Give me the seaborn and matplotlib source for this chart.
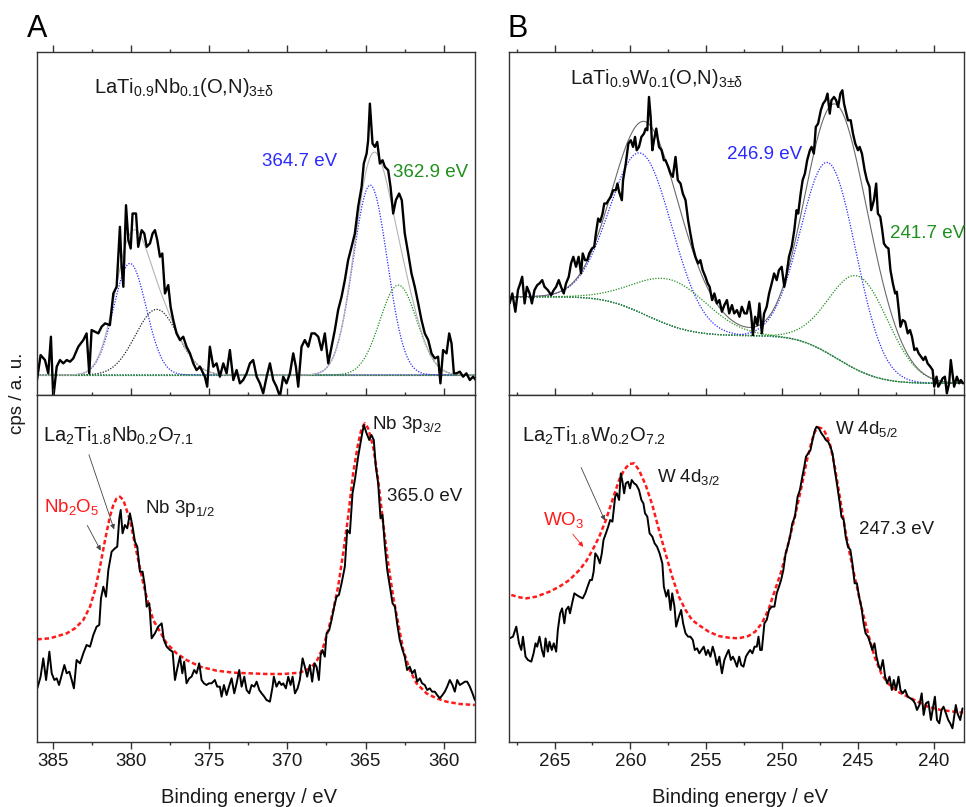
import math
import numpy as np
import matplotlib
matplotlib.use("Agg")
import matplotlib.pyplot as plt
import seaborn as sns
from matplotlib.ticker import MultipleLocator

# ---------------- measured spectra (binding energy / eV, intensity / a.u.) ----------------
# Panel A, top: LaTi0.9Nb0.1(O,N)3±d, Nb 3p region
nbon_energy = [386.00, 385.77, 385.49, 385.28, 385.11, 384.96, 384.74, 384.53, 384.32, 384.10,
               383.89, 383.68, 383.36, 383.04, 382.83, 382.66, 382.51, 382.29, 382.08, 381.87,
               381.65, 381.34, 381.12, 380.91, 380.70, 380.59, 380.48, 380.31, 380.16, 380.01,
               379.89, 379.67, 379.53, 379.31, 379.14, 378.99, 378.78, 378.61, 378.46, 378.31,
               378.14, 377.99, 377.82, 377.61, 377.46, 377.29, 377.08, 376.86, 376.65, 376.44,
               376.22, 376.01, 375.80, 375.58, 375.27, 375.12, 374.95, 374.73, 374.52, 374.31,
               374.09, 373.88, 373.67, 373.45, 373.24, 373.03, 372.82, 372.60, 372.39, 372.18,
               371.96, 371.75, 371.54, 371.32, 371.11, 370.90, 370.69, 370.47, 370.26, 370.05,
               369.83, 369.62, 369.45, 369.30, 369.09, 368.88, 368.66, 368.45, 368.24, 368.02,
               367.81, 367.60, 367.38, 367.17, 366.96, 366.75, 366.53, 366.32, 366.11, 365.89,
               365.68, 365.47, 365.25, 365.11, 364.93, 364.83, 364.72, 364.55, 364.40, 364.25,
               364.08, 363.91, 363.76, 363.55, 363.40, 363.23, 363.06, 362.85, 362.68, 362.49,
               362.27, 362.06, 361.85, 361.63, 361.42, 361.21, 360.99, 360.78, 360.57, 360.36,
               360.21, 360.04, 359.82, 359.65, 359.50, 359.35, 359.18, 358.97, 358.76, 358.55,
               358.33, 358.12, 357.95]
nbon_counts = [45, 120, 105, 65, 175, -10, 85, 105, 95, 105,
               100, 110, 145, 165, 185, 65, 195, 190, 185, 205,
               215, 210, 305, 325, 505, 385, 325, 570, 465, 440,
               545, 545, 445, 495, 485, 445, 455, 485, 495, 465,
               415, 425, 305, 330, 265, 225, 185, 165, 175, 145,
               125, 95, 75, 85, 55, 25, 145, 85, 95, 55,
               95, 65, 135, 45, 75, 35, 45, 65, 95, 105,
               55, 35, 5, 55, 95, 45, 25, -5, 55, 35,
               65, 125, 85, 25, 145, 165, 145, 185, 185, 175,
               135, 185, 95, 145, 195, 255, 295, 345, 405, 445,
               485, 565, 625, 695, 725, 765, 875, 755, 745, 760,
               695, 705, 685, 675, 625, 545, 585, 605, 585, 485,
               425, 365, 325, 275, 225, 185, 165, 125, 110, 115,
               35, 135, 125, 185, 155, 65, 65, 70, 55, 65,
               45, 55, 45]

# Panel A, bottom: La2Ti1.8Nb0.2O7.1
nbo_energy = [385.98, 385.77, 385.60, 385.42, 385.21, 385.06, 384.89, 384.74, 384.59, 384.42,
              384.25, 384.10, 383.93, 383.78, 383.64, 383.47, 383.25, 383.04, 382.83, 382.61,
              382.40, 382.19, 382.02, 381.91, 381.76, 381.59, 381.44, 381.23, 381.02, 380.87,
              380.74, 380.65, 380.53, 380.38, 380.23, 380.06, 379.89, 379.74, 379.59, 379.42,
              379.25, 379.10, 378.99, 378.82, 378.67, 378.46, 378.25, 378.03, 377.89, 377.71,
              377.50, 377.33, 377.18, 377.03, 376.86, 376.71, 376.59, 376.44, 376.27, 376.12,
              375.95, 375.80, 375.63, 375.48, 375.33, 375.16, 375.01, 374.84, 374.63, 374.48,
              374.31, 374.20, 374.05, 373.88, 373.73, 373.56, 373.39, 373.24, 373.07, 372.92,
              372.75, 372.60, 372.43, 372.28, 372.11, 371.96, 371.79, 371.64, 371.47, 371.33,
              371.11, 370.94, 370.86, 370.69, 370.52, 370.37, 370.26, 370.09, 369.94, 369.79,
              369.66, 369.51, 369.34, 369.20, 369.02, 368.88, 368.73, 368.56, 368.41, 368.26,
              368.13, 367.98, 367.87, 367.75, 367.60, 367.49, 367.32, 367.17, 367.00, 366.85,
              366.70, 366.53, 366.32, 366.17, 366.00, 365.83, 365.68, 365.47, 365.25, 365.11,
              364.93, 364.76, 364.62, 364.47, 364.34, 364.19, 364.04, 363.91, 363.76, 363.61,
              363.44, 363.27, 363.12, 362.98, 362.81, 362.63, 362.49, 362.34, 362.17, 362.02,
              361.85, 361.70, 361.53, 361.38, 361.21, 361.06, 360.89, 360.74, 360.57, 360.42,
              360.25, 360.08, 359.93, 359.78, 359.61, 359.44, 359.29, 359.14, 358.97, 358.80,
              358.65, 358.50, 358.33, 358.16, 358.01]
nbo_counts = [161, 196, 251, 186, 271, 206, 186, 191, 171, 201,
              231, 206, 211, 186, 161, 246, 236, 266, 291, 286,
              321, 346, 351, 431, 466, 436, 516, 571, 581, 586,
              671, 696, 626, 651, 641, 686, 646, 601, 586, 511,
              511, 466, 406, 416, 311, 326, 346, 356, 306, 286,
              276, 271, 186, 221, 256, 206, 241, 176, 191, 196,
              216, 206, 236, 186, 176, 171, 176, 176, 186, 166,
              166, 136, 171, 141, 166, 191, 146, 176, 216, 166,
              196, 156, 146, 171, 166, 181, 156, 146, 136, 126,
              121, 166, 196, 166, 181, 171, 176, 161, 196, 171,
              196, 146, 161, 186, 251, 226, 196, 231, 181, 236,
              226, 186, 261, 276, 256, 326, 336, 366, 406, 436,
              441, 476, 526, 636, 626, 746, 786, 856, 916, 951,
              926, 906, 921, 906, 826, 776, 671, 681, 586, 516,
              466, 416, 406, 356, 306, 276, 256, 216, 226, 206,
              216, 181, 191, 176, 171, 156, 161, 151, 151, 141,
              131, 141, 151, 166, 186, 171, 151, 186, 171, 176,
              181, 181, 166, 146, 126]

# Nb2O5 reference
nb2o5_energy = [385.98, 385.17, 384.10, 383.57, 383.04, 382.61, 382.29, 381.97, 381.65, 381.34,
                381.12, 380.91, 380.70, 380.48, 380.27, 380.06, 379.84, 379.53, 379.21, 378.89,
                378.57, 378.14, 377.71, 377.08, 376.44, 375.58, 374.52, 373.45, 372.39, 371.32,
                370.26, 369.20, 368.56, 368.13, 367.70, 367.38, 367.06, 366.75, 366.43, 366.11,
                365.79, 365.47, 365.25, 365.04, 364.83, 364.51, 364.19, 363.87, 363.55, 363.23,
                362.91, 362.59, 362.17, 361.74, 361.10, 360.46, 359.82, 358.97, 358.01]
nb2o5_counts = [308, 311, 326, 341, 366, 406, 456, 526, 606, 676,
                711, 731, 736, 726, 696, 666, 616, 546, 476, 416,
                366, 331, 296, 266, 246, 226, 214, 208, 206, 204,
                204, 208, 221, 241, 286, 336, 396, 466, 566, 676,
                806, 896, 941, 956, 941, 886, 786, 656, 536, 436,
                356, 276, 216, 176, 146, 131, 121, 114, 111]

# Panel B, top: LaTi0.9W0.1(O,N)3±d, W 4d region
won_energy = [267.96, 267.78, 267.58, 267.41, 267.26, 267.13, 266.97, 266.82, 266.64, 266.49,
              266.32, 266.14, 265.99, 265.81, 265.66, 265.44, 265.22, 265.05, 264.89, 264.72,
              264.57, 264.39, 264.24, 264.06, 263.91, 263.76, 263.58, 263.41, 263.25, 263.14,
              262.99, 262.84, 262.71, 262.53, 262.38, 262.27, 262.12, 261.99, 261.83, 261.72,
              261.57, 261.44, 261.29, 261.13, 260.96, 260.85, 260.74, 260.56, 260.48, 260.30,
              260.13, 259.97, 259.82, 259.69, 259.58, 259.43, 259.27, 259.10, 258.99, 258.88,
              258.77, 258.66, 258.55, 258.44, 258.29, 258.11, 257.94, 257.79, 257.68, 257.50,
              257.35, 257.20, 257.02, 256.87, 256.69, 256.54, 256.36, 256.19, 256.04, 255.88,
              255.71, 255.53, 255.38, 255.23, 255.05, 254.90, 254.77, 254.61, 254.46, 254.29,
              254.13, 253.96, 253.80, 253.63, 253.48, 253.30, 253.15, 252.97, 252.80, 252.65,
              252.47, 252.32, 252.16, 252.03, 251.92, 251.77, 251.62, 251.49, 251.33, 251.18,
              251.01, 250.85, 250.68, 250.52, 250.35, 250.20, 250.02, 249.85, 249.69, 249.54,
              249.36, 249.19, 249.04, 248.93, 248.77, 248.64, 248.49, 248.34, 248.16, 248.05,
              247.90, 247.77, 247.62, 247.44, 247.29, 247.13, 247.00, 246.85, 246.74, 246.57,
              246.43, 246.30, 246.15, 246.02, 245.91, 245.76, 245.65, 245.47, 245.32, 245.17,
              244.99, 244.88, 244.73, 244.55, 244.40, 244.23, 244.12, 243.94, 243.79, 243.68,
              243.52, 243.39, 243.28, 243.13, 242.98, 242.85, 242.69, 242.54, 242.43, 242.30,
              242.19, 242.04, 241.88, 241.71, 241.56, 241.43, 241.27, 241.12, 240.99, 240.83,
              240.68, 240.55, 240.40, 240.22, 240.07, 239.96, 239.81, 239.70, 239.57, 239.41,
              239.26, 239.13, 238.98, 238.87, 238.76, 238.65, 238.47, 238.32, 238.21, 238.06]
won_counts = [275, 305, 250, 315, 335, 355, 275, 325, 305, 275,
              315, 330, 335, 345, 325, 315, 300, 315, 325, 345,
              325, 305, 335, 355, 395, 415, 385, 415, 365, 425,
              405, 405, 425, 440, 445, 485, 530, 520, 545, 575,
              575, 585, 595, 615, 615, 635, 610, 585, 645, 695,
              755, 765, 745, 775, 735, 745, 775, 785, 800, 795,
              895, 835, 735, 765, 800, 745, 735, 705, 705, 685,
              665, 655, 715, 645, 635, 605, 585, 525, 485, 445,
              415, 395, 405, 375, 355, 335, 325, 285, 305, 275,
              285, 250, 270, 285, 245, 270, 245, 255, 235, 265,
              245, 245, 280, 240, 180, 235, 210, 275, 185, 245,
              265, 305, 335, 365, 345, 375, 385, 325, 365, 415,
              445, 495, 555, 545, 605, 645, 665, 705, 735, 745,
              725, 805, 815, 855, 875, 885, 905, 845, 885, 895,
              885, 865, 905, 915, 875, 845, 825, 825, 785, 755,
              735, 745, 725, 675, 645, 625, 555, 585, 635, 545,
              535, 495, 455, 445, 440, 375, 335, 305, 310, 255,
              205, 225, 220, 185, 195, 175, 135, 140, 125, 115,
              105, 115, 95, 85, 75, 25, 55, 25, 35, 50,
              55, 5, 35, 105, 65, 25, 55, 35, 45, 35]

# Panel B, bottom: La2Ti1.8W0.2O7.2
wo_energy = [267.96, 267.74, 267.52, 267.34, 267.19, 267.08, 266.91, 266.75, 266.53, 266.38,
             266.25, 266.14, 265.99, 265.83, 265.70, 265.59, 265.44, 265.33, 265.18, 265.05,
             264.89, 264.78, 264.63, 264.50, 264.35, 264.24, 264.08, 263.98, 263.84, 263.69,
             263.54, 263.36, 263.14, 262.97, 262.82, 262.66, 262.53, 262.42, 262.31, 262.16,
             262.01, 261.88, 261.77, 261.61, 261.46, 261.33, 261.18, 261.00, 260.89, 260.74,
             260.63, 260.52, 260.41, 260.30, 260.15, 260.02, 259.91, 259.75, 259.60, 259.43,
             259.27, 259.14, 259.03, 258.88, 258.73, 258.55, 258.40, 258.24, 258.07, 257.89,
             257.79, 257.63, 257.50, 257.35, 257.24, 257.09, 256.98, 256.80, 256.65, 256.52,
             256.36, 256.19, 256.04, 255.88, 255.75, 255.60, 255.45, 255.31, 255.16, 255.01,
             254.88, 254.72, 254.57, 254.44, 254.29, 254.13, 253.96, 253.80, 253.67, 253.52,
             253.37, 253.24, 253.13, 252.97, 252.82, 252.69, 252.54, 252.38, 252.25, 252.10,
             251.95, 251.81, 251.66, 251.55, 251.44, 251.33, 251.16, 251.01, 250.85, 250.68,
             250.50, 250.35, 250.20, 250.06, 249.91, 249.76, 249.63, 249.47, 249.32, 249.15,
             248.97, 248.82, 248.66, 248.53, 248.42, 248.27, 248.12, 247.99, 247.83, 247.72,
             247.57, 247.40, 247.24, 247.11, 246.96, 246.81, 246.67, 246.52, 246.35, 246.19,
             246.08, 245.93, 245.80, 245.65, 245.49, 245.36, 245.21, 245.06, 244.92, 244.77,
             244.62, 244.49, 244.33, 244.18, 244.05, 243.90, 243.77, 243.61, 243.50, 243.35,
             243.20, 243.07, 242.91, 242.76, 242.63, 242.48, 242.32, 242.19, 242.04, 241.88,
             241.71, 241.53, 241.38, 241.23, 241.10, 240.94, 240.79, 240.66, 240.51, 240.35,
             240.18, 240.07, 239.92, 239.78, 239.63, 239.48, 239.35, 239.19, 239.04, 238.91,
             238.76, 238.65, 238.54, 238.43, 238.25, 238.10]
wo_counts = [311, 316, 346, 296, 276, 316, 256, 246, 241, 266,
             296, 286, 316, 276, 256, 311, 271, 301, 276, 296,
             271, 336, 386, 401, 356, 396, 406, 386, 416, 446,
             441, 436, 431, 446, 466, 486, 486, 511, 566, 556,
             536, 566, 606, 626, 646, 666, 661, 736, 746, 726,
             806, 781, 746, 776, 781, 761, 786, 776, 771, 756,
             726, 716, 686, 676, 626, 616, 596, 586, 566, 536,
             466, 436, 456, 396, 446, 406, 346, 376, 396, 356,
             326, 316, 316, 306, 276, 281, 266, 276, 286, 261,
             276, 256, 286, 266, 231, 256, 206, 246, 261, 276,
             246, 256, 246, 226, 256, 231, 226, 256, 266, 276,
             266, 286, 286, 316, 276, 276, 356, 366, 396, 406,
             406, 446, 466, 486, 516, 566, 586, 616, 656, 676,
             736, 756, 796, 826, 856, 866, 876, 906, 936, 946,
             941, 926, 916, 906, 901, 886, 866, 816, 766, 716,
             676, 666, 616, 586, 576, 536, 476, 476, 436, 406,
             356, 326, 316, 296, 276, 296, 256, 226, 216, 246,
             196, 176, 196, 156, 186, 156, 196, 156, 146, 156,
             136, 131, 126, 116, 96, 111, 146, 81, 116, 121,
             66, 96, 136, 66, 56, 96, 106, 86, 66, 56,
             41, 76, 111, 86, 66, 101]

# WO3 reference
wo3_energy = [267.85, 267.30, 266.86, 266.21, 265.33, 264.68, 264.02, 263.36, 262.93, 262.49,
              262.05, 261.61, 261.18, 260.74, 260.41, 260.08, 259.75, 259.43, 258.99, 258.55,
              258.11, 257.68, 257.24, 256.80, 256.36, 255.93, 255.49, 254.83, 254.18, 253.52,
              252.86, 252.21, 251.77, 251.33, 250.90, 250.46, 250.02, 249.58, 249.15, 248.71,
              248.38, 248.05, 247.83, 247.62, 247.40, 247.18, 246.85, 246.52, 246.19, 245.87,
              245.54, 245.21, 244.77, 244.33, 243.90, 243.46, 243.02, 242.37, 241.71, 241.05,
              240.40, 239.52, 238.65, 238.06]
wo3_counts = [441, 434, 431, 436, 451, 466, 486, 516, 541, 576,
              616, 666, 726, 786, 816, 834, 836, 816, 771, 711,
              636, 566, 496, 436, 396, 366, 351, 331, 318, 313,
              311, 318, 331, 356, 396, 456, 516, 596, 676, 766,
              841, 901, 931, 944, 941, 931, 896, 826, 736, 646,
              566, 496, 406, 326, 256, 206, 176, 151, 136, 121,
              106, 96, 91, 88]

# ---------------- peak-fit parameters (centre / eV, height, sigma / eV) ----------------
nb_baseline = 60
nb_main_centre = [380.06, 364.7]       # blue components
nb_main_height = [335, 570]
nb_main_sigma = [1.04, 1.09]
nb_side_centre = [378.35, 362.9]       # black (3p1/2) and green (3p3/2) components
nb_side_height = [197, 270]
nb_side_sigma = [1.36, 1.18]

w_main_centre = [259.25, 246.9]        # blue components
w_main_height = [480, 573]
w_main_sigma = [2.04, 1.81]
w_side_centre = [257.2, 244.9]         # green components
w_side_height = [138, 283]
w_side_sigma = [2.4, 1.95]
w_bg_high, w_bg_low = 295, 35          # Shirley background end levels

BLUE = "#2a2aff"
GREEN = "#1f8f1f"
RED = "#ff1a1a"
INK = "#1a1a1a"
DOTS = (0, (1, 1.2))


def gauss(e, c, h, s):
    return h * np.exp(-0.5 * ((e - c) / s) ** 2)


_erf = np.vectorize(math.erf)


def shirley(e, centres, heights, sigmas, high, low):
    areas = np.array(heights) * np.array(sigmas)
    frac = sum(a * 0.5 * (1 + _erf((e - c) / (s * math.sqrt(2))))
               for a, c, s in zip(areas, centres, sigmas)) / areas.sum()
    return low + (high - low) * frac


# ---------------- figure ----------------
sns.set_theme(style="white")
plt.rcParams["font.family"] = ["Liberation Sans", "DejaVu Sans"]
plt.rcParams["mathtext.fontset"] = "custom"
plt.rcParams["mathtext.rm"] = "Liberation Sans"
plt.rcParams["mathtext.it"] = "Liberation Sans:italic"
plt.rcParams["mathtext.default"] = "regular"

FIG_W, FIG_H = 966, 807
fig = plt.figure(figsize=(FIG_W / 100, FIG_H / 100), dpi=100)


def box(x0, y0, x1, y1):
    return [x0 / FIG_W, 1 - y1 / FIG_H, (x1 - x0) / FIG_W, (y1 - y0) / FIG_H]


def fp(x, y):
    return (x / FIG_W, 1 - y / FIG_H)


axA1 = fig.add_axes(box(37, 52, 475, 395))
axA2 = fig.add_axes(box(37, 395, 475, 742))
axB1 = fig.add_axes(box(509, 52, 964, 395))
axB2 = fig.add_axes(box(509, 395, 964, 742))


def line(ax, x, y, **kw):
    sns.lineplot(x=np.asarray(x), y=np.asarray(y), ax=ax, sort=False, estimator=None, **kw)


# --- A top: Nb 3p fit ---
eA = np.linspace(386, 358, 600)
base = np.full_like(eA, nb_baseline, dtype=float)
envA = base.copy()
for c, h, s in zip(nb_main_centre, nb_main_height, nb_main_sigma):
    g = gauss(eA, c, h, s)
    envA += g
    line(axA1, eA, base + g, color=BLUE, lw=0.9, linestyle=DOTS)
for (c, h, s), col in zip(zip(nb_side_centre, nb_side_height, nb_side_sigma), ["#222222", GREEN]):
    g = gauss(eA, c, h, s)
    envA += g
    line(axA1, eA, base + g, color=col, lw=0.9, linestyle=DOTS)
line(axA1, eA, base, color=GREEN, lw=0.9, linestyle=DOTS)
line(axA1, eA, envA, color="#b4b4b4", lw=0.8)
line(axA1, nbon_energy, nbon_counts, color="black", lw=1.7)

# --- A bottom ---
line(axA2, nb2o5_energy, nb2o5_counts, color=RED, lw=1.8, linestyle=(0, (1.8, 1.1)))
line(axA2, nbo_energy, nbo_counts, color="black", lw=1.4)

# --- B top: W 4d fit with Shirley background ---
eB = np.linspace(268, 238, 600)
bgB = shirley(eB, w_main_centre + w_side_centre, w_main_height + w_side_height,
              w_main_sigma + w_side_sigma, w_bg_high, w_bg_low)
envB = bgB.copy()
for c, h, s in zip(w_main_centre, w_main_height, w_main_sigma):
    g = gauss(eB, c, h, s)
    envB += g
    line(axB1, eB, bgB + g, color=BLUE, lw=0.9, linestyle=DOTS)
for c, h, s in zip(w_side_centre, w_side_height, w_side_sigma):
    g = gauss(eB, c, h, s)
    envB += g
    line(axB1, eB, bgB + g, color=GREEN, lw=0.9, linestyle=DOTS)
line(axB1, eB, bgB, color=GREEN, lw=0.9, linestyle=DOTS)
line(axB1, eB, envB, color="#6a6a6a", lw=0.8)
line(axB1, won_energy, won_counts, color="black", lw=1.7)

# --- B bottom ---
line(axB2, wo3_energy, wo3_counts, color=RED, lw=1.8, linestyle=(0, (1.8, 1.1)))
line(axB2, wo_energy, wo_counts, color="black", lw=1.4)

# --- axes styling ---
for ax, xlim, ylim, bottom_labels in [(axA1, (386, 358), (0, 1030), False),
                                      (axA2, (386, 358), (0, 1041), True),
                                      (axB1, (268, 238), (0, 1030), False),
                                      (axB2, (268, 238), (0, 1041), True)]:
    ax.set_xlim(*xlim)
    ax.set_ylim(*ylim)
    ax.set_yticks([])
    ax.set_ylabel("")
    ax.set_xlabel("")
    ax.xaxis.set_major_locator(MultipleLocator(5))
    ax.xaxis.set_minor_locator(MultipleLocator(2.5))
    ax.tick_params(axis="x", which="both", direction="out", top=True, bottom=True,
                   labeltop=False, labelbottom=bottom_labels, colors="#333333",
                   labelcolor=INK, labelsize=13.5, pad=3)
    ax.tick_params(axis="x", which="major", length=5, width=1.0)
    ax.tick_params(axis="x", which="minor", length=2.5, width=1.0)
    for sp in ax.spines.values():
        sp.set_visible(True)
        sp.set_color("#333333")
        sp.set_linewidth(1.0)
    ax.set_facecolor("white")

for ax, xfrac in ((axA2, 0.484), (axB2, 0.508)):
    ax.set_xlabel("Binding energy / eV", fontsize=14.5, color=INK)
    ax.xaxis.set_label_coords(xfrac, -0.132)

fig.text(*fp(17, 393), "cps / a. u.", rotation=90, ha="center", va="center",
         fontsize=13.5, color=INK)

# --- panel letters ---
fig.text(*fp(27, 37), "A", fontsize=22, color="black", va="baseline")
fig.text(*fp(507, 37), "B", fontsize=22, color="black", va="baseline")


# --- annotations ---
def label(x, y, s, color=INK, size=13.5):
    fig.text(*fp(x, y), s, color=color, fontsize=size, ha="left", va="baseline")


label(94, 93, r"LaTi$_{0.9}$Nb$_{0.1}$(O,N)$_{3{\pm}\delta}$", size=14.5)
label(262, 166, "364.7 eV", color=BLUE)
label(393, 177, "362.9 eV", color=GREEN)

label(570, 84, r"LaTi$_{0.9}$W$_{0.1}$(O,N)$_{3{\pm}\delta}$", size=14.5)
label(727, 159, "246.9 eV", color=BLUE)
label(890, 238, "241.7 eV", color=GREEN)

label(43, 442, r"La$_{2}$Ti$_{1.8}$Nb$_{0.2}$O$_{7.1}$", size=14.5)
label(44, 512, r"Nb$_{2}$O$_{5}$", color=RED)
label(145, 513, r"Nb 3p$_{1/2}$")
label(372, 429, r"Nb 3p$_{3/2}$")
label(387, 501, "365.0 eV")

label(522, 442, r"La$_{2}$Ti$_{1.8}$W$_{0.2}$O$_{7.2}$", size=14.5)
label(543, 525, r"WO$_{3}$", color=RED)
label(657, 482, r"W 4d$_{3/2}$")
label(835, 434, r"W 4d$_{5/2}$")
label(859, 534, "247.3 eV")


def pointer(start, end, color):
    fig.add_artist(matplotlib.patches.FancyArrowPatch(
        fp(*start), fp(*end), transform=fig.transFigure, arrowstyle="-|>",
        mutation_scale=7, lw=0.6, color=color))


pointer((88, 452), (115, 532), "#444444")
pointer((86, 523), (102, 553), "#444444")
pointer((580, 465), (606, 523), "#444444")
pointer((571, 532), (585, 549), RED)

fig.savefig("out.png", dpi=100, facecolor="white")
